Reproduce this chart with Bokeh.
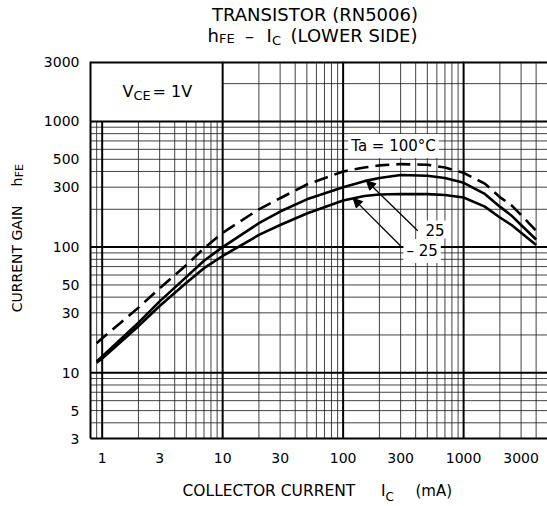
import numpy as np
from math import pi
from bokeh.plotting import figure
from bokeh.layouts import column, row
from bokeh.models import FixedTicker, Label, Arrow, NormalHead, PrintfTickFormatter, Range1d
from bokeh.embed import file_html
from bokeh.resources import INLINE

# ---------------- data ----------------
current_ma = [0.9, 1, 2, 3, 5, 7, 10, 20, 30, 50, 100, 150, 200, 300, 500, 700,
              1000, 1500, 2000, 2500, 3000, 4000]
hfe_ta_100 = [17.2, 18.8, 33, 47, 72, 98, 130, 200, 245, 315, 400, 430, 447, 458, 452, 430,
              390, 320, 250, 215, 180, 135]
hfe_ta_25 = [12.3, 13.5, 25, 37, 58, 78, 100, 155, 192, 240, 300, 335, 355, 375, 370, 355,
             325, 265, 210, 178, 150, 115]
hfe_ta_m25 = [12.0, 13.0, 23.5, 34, 52, 68, 85, 125, 150, 185, 235, 255, 262, 265, 264, 260,
              248, 210, 172, 150, 130, 104]

x_tick_values = [1, 3, 10, 30, 100, 300, 1000, 3000]
y_tick_values = [3, 5, 10, 30, 50, 100, 300, 500, 1000, 3000]

x_grid_major = [1, 10, 100, 1000]
x_grid_minor = [0.9, 2, 3, 4, 5, 6, 7, 8, 9, 20, 30, 40, 50, 60, 70, 80, 90,
                200, 300, 400, 500, 600, 700, 800, 900, 2000, 3000, 4000]
y_grid_major = [10, 100, 1000]
y_grid_minor = [4, 5, 6, 7, 8, 9, 20, 30, 40, 50, 60, 70, 80, 90,
                200, 300, 400, 500, 600, 700, 800, 900]
y_grid_top = [2000]

X_MIN, X_MAX = 0.8, 4970
Y_MIN, Y_MAX = 3, 3000
BOX_X, BOX_Y = 10, 1000   # V_CE box corner

FONT = "DejaVu Sans"
W, H = 547, 506
TOP_H, LEFT_W, BOT_H = 50, 40, 31
MAIN_H = H - TOP_H - BOT_H
FRAME_TOP, FRAME_BOTTOM, FRAME_LEFT = 61, 438, 88


def text_fig(width, height, x0, y0):
    f = figure(width=width, height=height, x_range=Range1d(x0, x0 + width),
               y_range=Range1d(y0 + height, y0), output_backend="svg",
               toolbar_location=None, x_axis_location=None, y_axis_location=None,
               min_border=0)
    f.outline_line_color = None
    f.grid.visible = False
    f.background_fill_color = "white"
    f.border_fill_color = "white"
    return f


def tlab(f, x, y, text, size="18px", align="left", angle=0):
    f.add_layout(Label(x=x, y=y, text=text, text_font=FONT, text_font_size=size,
                       text_align=align, text_baseline="middle", text_color="black",
                       angle=angle))


# ---------------- title strip ----------------
top = text_fig(W, TOP_H, 0, 0)
tlab(top, 314.5, 14, "TRANSISTOR (RN5006)", align="center")
tlab(top, 207, 35, "h")
tlab(top, 218.5, 37.5, "FE", size="13px")
tlab(top, 249, 35, "–", align="center")
tlab(top, 266, 35, "I")
tlab(top, 271.5, 40, "C", size="13px")
tlab(top, 290, 35, "(LOWER SIDE)")

# ---------------- y label strip ----------------
left = text_fig(LEFT_W, MAIN_H, 0, TOP_H)
tlab(left, 16.5, 272.5, "CURRENT GAIN", size="14px", align="center", angle=pi / 2)
tlab(left, 16.5, 186, "h", size="14px", align="center", angle=pi / 2)
tlab(left, 19.2, 173, "FE", size="11px", align="center", angle=pi / 2)

# ---------------- x label strip ----------------
bottom = text_fig(W, BOT_H, 0, TOP_H + MAIN_H)
tlab(bottom, 182, 490.5, "COLLECTOR CURRENT", size="15.5px")
tlab(bottom, 380.5, 490.5, "I", size="15.5px")
tlab(bottom, 385, 496, "C", size="12px")
tlab(bottom, 415, 490.5, "(mA)", size="15px")

# ---------------- main chart ----------------
p = figure(width=W - LEFT_W, height=MAIN_H, x_axis_type="log", y_axis_type="log",
           x_range=Range1d(X_MIN, X_MAX), y_range=Range1d(Y_MIN, Y_MAX),
           output_backend="svg", toolbar_location=None,
           min_border_left=FRAME_LEFT - LEFT_W, min_border_right=0,
           min_border_top=FRAME_TOP - TOP_H,
           min_border_bottom=TOP_H + MAIN_H - FRAME_BOTTOM)
p.outline_line_color = None
p.xgrid.visible = False
p.ygrid.visible = False
p.background_fill_color = "white"
p.border_fill_color = "white"

for ax, ticks, stand in ((p.xaxis, x_tick_values, 8), (p.yaxis, y_tick_values, 5)):
    ax.ticker = FixedTicker(ticks=ticks)
    ax.formatter = PrintfTickFormatter(format="%d")
    ax.major_tick_line_color = None
    ax.minor_tick_line_color = None
    ax.axis_line_color = "black"
    ax.axis_line_width = 2
    ax.major_label_text_font = FONT
    ax.major_label_text_font_size = "14px"
    ax.major_label_text_color = "black"
    ax.major_label_standoff = stand


def vlines(xs):
    x0, y0, x1, y1 = [], [], [], []
    for x in xs:
        x0.append(x); x1.append(x); y0.append(Y_MIN)
        y1.append(BOX_Y if x < BOX_X else Y_MAX)
    return dict(x0=x0, y0=y0, x1=x1, y1=y1)


def hlines(ys, xstart):
    return dict(x0=[xstart] * len(ys), x1=[X_MAX] * len(ys), y0=ys, y1=ys)


p.segment(source=vlines(x_grid_minor), x0="x0", y0="y0", x1="x1", y1="y1",
          line_color="#222222", line_width=1, line_alpha=0.85)
p.segment(source=hlines(y_grid_minor, X_MIN), x0="x0", y0="y0", x1="x1", y1="y1",
          line_color="#222222", line_width=1, line_alpha=0.85)
p.segment(source=hlines(y_grid_top, BOX_X), x0="x0", y0="y0", x1="x1", y1="y1",
          line_color="#222222", line_width=1, line_alpha=0.85)
p.segment(source=vlines(x_grid_major), x0="x0", y0="y0", x1="x1", y1="y1",
          line_color="black", line_width=2)
p.segment(source=hlines(y_grid_major, X_MIN), x0="x0", y0="y0", x1="x1", y1="y1",
          line_color="black", line_width=2)
p.segment(x0=[X_MIN], y0=[Y_MAX], x1=[X_MAX], y1=[Y_MAX], line_color="black", line_width=4)

p.line(current_ma, hfe_ta_100, line_color="black", line_width=2.6, line_dash="14 7")
p.line(current_ma, hfe_ta_25, line_color="black", line_width=2.6)
p.line(current_ma, hfe_ta_m25, line_color="black", line_width=2.6)


def on_curve(i0, h):
    return 10 ** np.interp(np.log10(i0), np.log10(current_ma), np.log10(h))


for xs, ys, xe, curve in ((416, 135, 156, hfe_ta_25), (299, 102.6, 121, hfe_ta_m25)):
    p.add_layout(Arrow(x_start=xs, y_start=ys, x_end=xe, y_end=float(on_curve(xe, curve)),
                       line_color="black", line_width=1.3,
                       end=NormalHead(size=9, fill_color="black", line_color="black")))


# in-frame texts (screen units relative to the frame's bottom-left corner)
def flab(px, py, text, size="15px", align="left", bg=None):
    l = Label(x=px - FRAME_LEFT, y=FRAME_BOTTOM - py, x_units="screen", y_units="screen",
              text=text, text_font=FONT, text_font_size=size, text_align=align,
              text_baseline="middle", text_color="black")
    if bg:
        l.background_fill_color = bg
        l.padding = 3
    p.add_layout(l)


flab(391, 145.4, "Ta = 100°C", align="center", bg="white")
flab(420, 229, "25", bg="white")
flab(438.3, 250.4, "– 25", align="right", bg="white")

flab(120, 91, "V", size="16px")
flab(131, 94.7, "CE", size="13px")
flab(150, 91, "= 1V", size="16px")

layout = column(top, row(left, p), bottom)
open("out.html", "w").write(file_html(layout, INLINE))
